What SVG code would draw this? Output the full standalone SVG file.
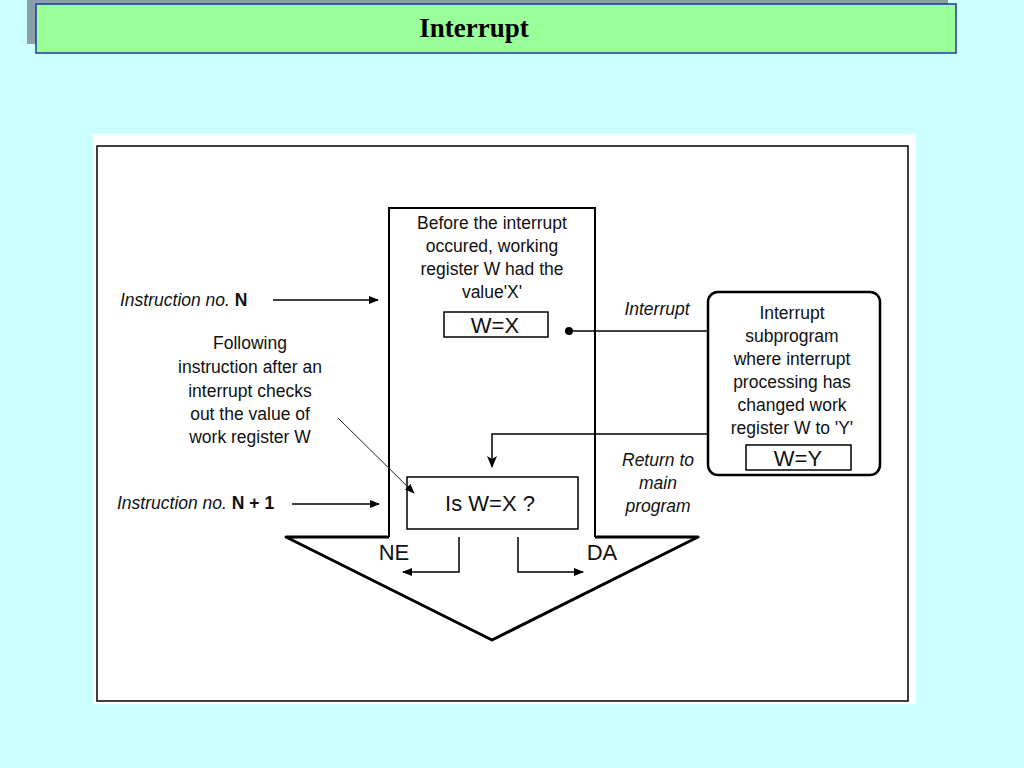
<svg xmlns="http://www.w3.org/2000/svg" width="1024" height="768" viewBox="0 0 1024 768">
<defs>
<style>
.t{font-family:"Liberation Sans",Arial,sans-serif;font-size:17.5px;fill:#111;text-anchor:middle}
.s{font-family:"Liberation Sans",Arial,sans-serif;font-size:17.5px;fill:#111;text-anchor:start;font-style:italic}
.big{font-family:"Liberation Sans",Arial,sans-serif;font-size:22px;fill:#111;text-anchor:middle}
.i{font-style:italic}
.b{font-weight:bold;font-style:normal}
.ln{stroke:#000;fill:none;stroke-width:1.5}
.thin{stroke:#222;fill:none;stroke-width:1}
</style>
<marker id="ah" markerWidth="10" markerHeight="8" refX="9" refY="4" orient="auto" markerUnits="userSpaceOnUse">
<path d="M0,0 L10,4 L0,8 Z" fill="#000"/>
</marker>
<marker id="ah2" markerWidth="12" markerHeight="10" refX="11" refY="5" orient="auto" markerUnits="userSpaceOnUse">
<path d="M0,0 L12,5 L0,10 L3,5 Z" fill="#000"/>
</marker>
</defs>
<rect width="1024" height="768" fill="#CCFFFF"/>
<g id="title">
<rect x="27" y="0" width="921" height="44" fill="#8A9FA8"/>
<rect x="36" y="4" width="920" height="49" fill="#99FF99" stroke="#2233AA" stroke-width="1.5"/>
<text x="474" y="37" font-family="'Liberation Serif','Times New Roman',serif" font-size="27" font-weight="bold" text-anchor="middle" fill="#000">Interrupt</text>
</g>
<rect x="93" y="134" width="823" height="570" fill="#fff"/>
<rect x="97" y="146" width="811" height="555" fill="none" stroke="#000" stroke-width="1.5"/>
<g id="flow-arrow">
<path d="M389,537 L389,208 L595,208 L595,537" fill="none" stroke="#000" stroke-width="2"/>
<path d="M389,537 L286,537 L492,640 L698,537 L595,537" fill="none" stroke="#000" stroke-width="3" stroke-linejoin="round"/>
</g>
<g id="before-note">
<text class="t" x="492" y="229">Before the interrupt</text>
<text class="t" x="492" y="252">occured, working</text>
<text class="t" x="492" y="275">register W had the</text>
<text class="t" x="492" y="298">value'X'</text>
</g>
<g id="wx-box">
<rect x="444" y="312" width="104" height="25" fill="#fff" stroke="#000" stroke-width="1.5"/>
<text class="big" x="495" y="333">W=X</text>
</g>
<g id="subprogram">
<rect x="708" y="292" width="172" height="183" rx="10" fill="#fff" stroke="#000" stroke-width="2.5"/>
<text class="t" x="792" y="319">Interrupt</text>
<text class="t" x="792" y="342">subprogram</text>
<text class="t" x="792" y="365">where interrupt</text>
<text class="t" x="792" y="388">processing has</text>
<text class="t" x="792" y="411">changed work</text>
<text class="t" x="792" y="434">register W  to 'Y'</text>
<rect x="746" y="445" width="105" height="25" fill="#fff" stroke="#000" stroke-width="1.5"/>
<text class="big" x="798" y="466">W=Y</text>
</g>
<g id="check-box">
<rect x="407" y="477" width="171" height="52" fill="#fff" stroke="#000" stroke-width="1.5"/>
<text class="big" x="490" y="511">Is W=X ?</text>
</g>
<g id="labels">
<text class="s" x="120" y="306">Instruction no. <tspan class="b">N</tspan></text>
<text class="s" x="117" y="509">Instruction no. <tspan class="b">N + 1</tspan></text>
<text class="t" x="250" y="349">Following</text>
<text class="t" x="250" y="373">instruction after an</text>
<text class="t" x="250" y="397">interrupt checks</text>
<text class="t" x="250" y="420">out the value of</text>
<text class="t" x="250" y="443">work register W</text>
<text class="t i" x="657" y="315">Interrupt</text>
<text class="t i" x="658" y="466">Return to</text>
<text class="t i" x="658" y="489">main</text>
<text class="t i" x="658" y="512">program</text>
<text class="big" x="394" y="560">NE</text>
<text class="big" x="602" y="560">DA</text>
</g>
<g id="connectors">
<line class="ln" x1="273" y1="300" x2="378" y2="300" marker-end="url(#ah)"/>
<line class="ln" x1="292" y1="504" x2="379" y2="504" marker-end="url(#ah)" stroke-width="2"/>
<circle cx="569" cy="331" r="4" fill="#000"/>
<line class="ln" x1="569" y1="331" x2="708" y2="331" stroke-width="1.2"/>
<path class="ln" d="M708,434 L492,434 L492,467" stroke-width="1.2" marker-end="url(#ah2)"/>
<line class="thin" x1="338" y1="418" x2="414" y2="493" marker-end="url(#ah)"/>
<path class="ln" d="M459,537 L459,572 L403,572" stroke-width="1.2" marker-end="url(#ah)"/>
<path class="ln" d="M518,537 L518,572 L583,572" stroke-width="1.2" marker-end="url(#ah)"/>
</g>
</svg>
